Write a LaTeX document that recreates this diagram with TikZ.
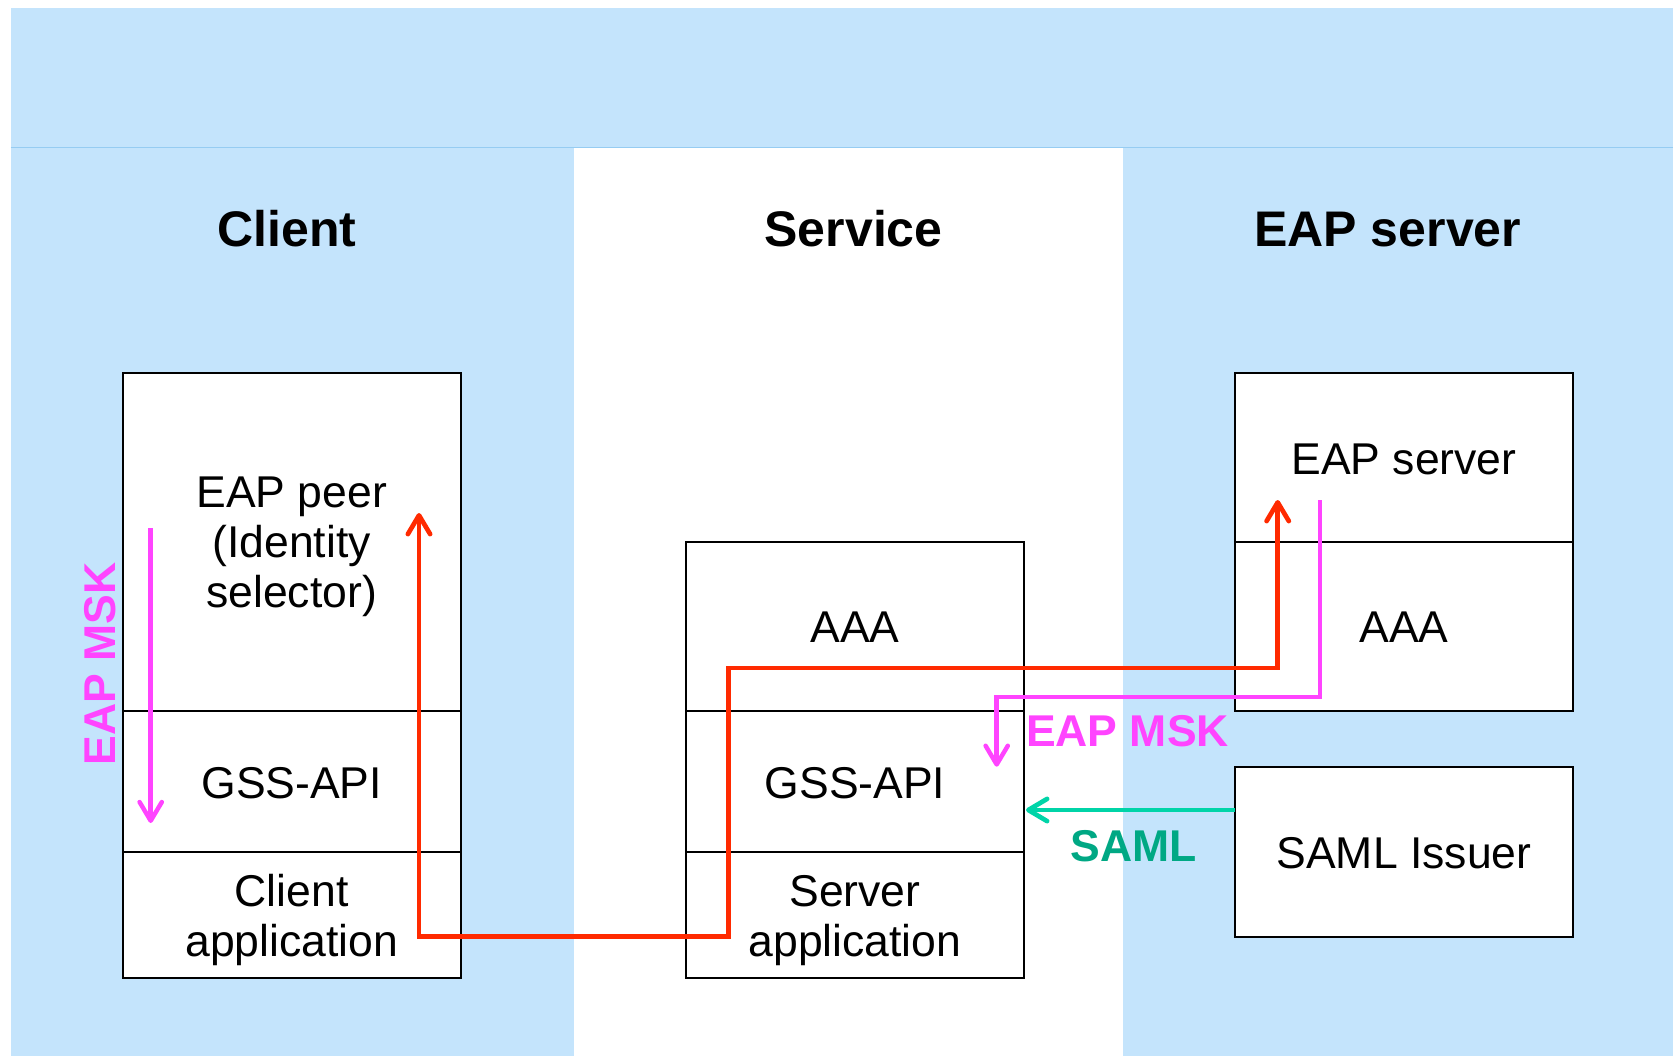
\documentclass[tikz,border=0pt]{standalone}
\usepackage{fontspec}
\setmainfont{Liberation Sans}
\usetikzlibrary{arrows.meta}
\definecolor{bgblue}{RGB}{196,228,252}
\definecolor{bandline}{RGB}{150,204,242}
\definecolor{flowred}{RGB}{255,42,0}
\definecolor{msk}{RGB}{255,68,255}
\definecolor{samlline}{RGB}{0,212,168}
\definecolor{samltext}{RGB}{0,168,132}
\begin{document}
\begin{tikzpicture}[x=0.03cm,y=-0.03cm,
  sec/.style={draw=black,line width=1.7pt,fill=white},
  lbl/.style={font=\fontsize{38}{42.7}\selectfont,align=center,inner sep=0pt},
  blbl/.style={font=\fontsize{38}{42.7}\selectfont,anchor=base,inner sep=0pt},
  head/.style={font=\fontsize{42.7}{48}\selectfont\bfseries,anchor=base,inner sep=0pt},
  tag/.style={font=\fontsize{38}{42.7}\selectfont\bfseries,anchor=base,inner sep=0pt},
  barb/.tip={Straight Barb[length=16pt,width=19pt,line cap=round,line join=round]},
  redflow/.style={draw=flowred,line width=4pt,line join=miter,barb-barb},
  mskflow/.style={draw=msk,line width=3.8pt,line join=miter,-barb},
  samlflow/.style={draw=samlline,line width=4pt,-barb}]
\useasboundingbox (0,0) rectangle (1673,1056);
% background
\fill[bgblue] (10.7,7.5) rectangle (1673,1056);
\fill[white] (574,147) rectangle (1122.5,1056);
\draw[bandline,line width=0.8pt] (10.7,147) -- (1673,147);
% headers
\node[head] (hclient) at (287,246.7) {Client};
\node[head] (hservice) at (853.6,246.7) {Service};
\node[head] (heap) at (1387.7,246.7) {EAP server};
% client stack
\draw[sec] (122.7,372.7) rectangle (460.7,978);
\draw[line width=1.7pt] (122.7,710.7) -- (460.7,710.7);
\draw[line width=1.7pt] (122.7,851.7) -- (460.7,851.7);
\node[lbl] (cpeer) at (291.7,546.7) {EAP peer\\(Identity\\selector)};
\node[blbl] (cgss) at (291.7,798) {GSS-API};
\node[lbl] (capp) at (291.7,920.4) {Client\\application};
% service stack
\draw[sec] (686,541.7) rectangle (1024,978);
\draw[line width=1.7pt] (686,710.7) -- (1024,710.7);
\draw[line width=1.7pt] (686,851.7) -- (1024,851.7);
\node[blbl] (saaa) at (855,642.7) {AAA};
\node[blbl] (sgss) at (855,798) {GSS-API};
\node[lbl] (sapp) at (855,920.4) {Server\\application};
% EAP server stack
\draw[sec] (1235,372.7) rectangle (1573,710.7);
\draw[line width=1.7pt] (1235,541.7) -- (1573,541.7);
\node[blbl] (eeap) at (1404,474.3) {EAP server};
\node[blbl] (eaaa) at (1404,642.7) {AAA};
% SAML issuer
\draw[sec] (1235,767) rectangle (1573,937);
\node[blbl] (issuer) at (1404,868.5) {SAML Issuer};
% connector points
\coordinate (r1) at (419,513);
\coordinate (r2) at (419,936.7);
\coordinate (r3) at (728.8,936.7);
\coordinate (r4) at (728.8,668);
\coordinate (r5) at (1277.7,668);
\coordinate (r6) at (1277.7,500);
\coordinate (m1) at (1320,500);
\coordinate (m2) at (1320,697);
\coordinate (m3) at (996.7,697);
\coordinate (m4) at (996.7,766.7);
\coordinate (l1) at (150.7,528);
\coordinate (l2) at (150.7,823);
\coordinate (s1) at (1235,810);
\coordinate (s2) at (1026,810);
% flows
\draw[redflow] (r1) -- (r2) -- (r3) -- (r4) -- (r5) -- (r6);
\draw[mskflow] (m1) -- (m2) -- (m3) -- (m4);
\draw[mskflow] (l1) -- (l2);
\draw[samlflow] (s1) -- (s2);
% labels
\node[tag,text=msk] (msk1) at (1127.5,746) {EAP MSK};
\node[tag,text=msk,rotate=90] (msk2) at (115.7,664) {EAP MSK};
\node[tag,text=samltext] (saml) at (1134,861.7) {SAML};
\end{tikzpicture}
\end{document}
